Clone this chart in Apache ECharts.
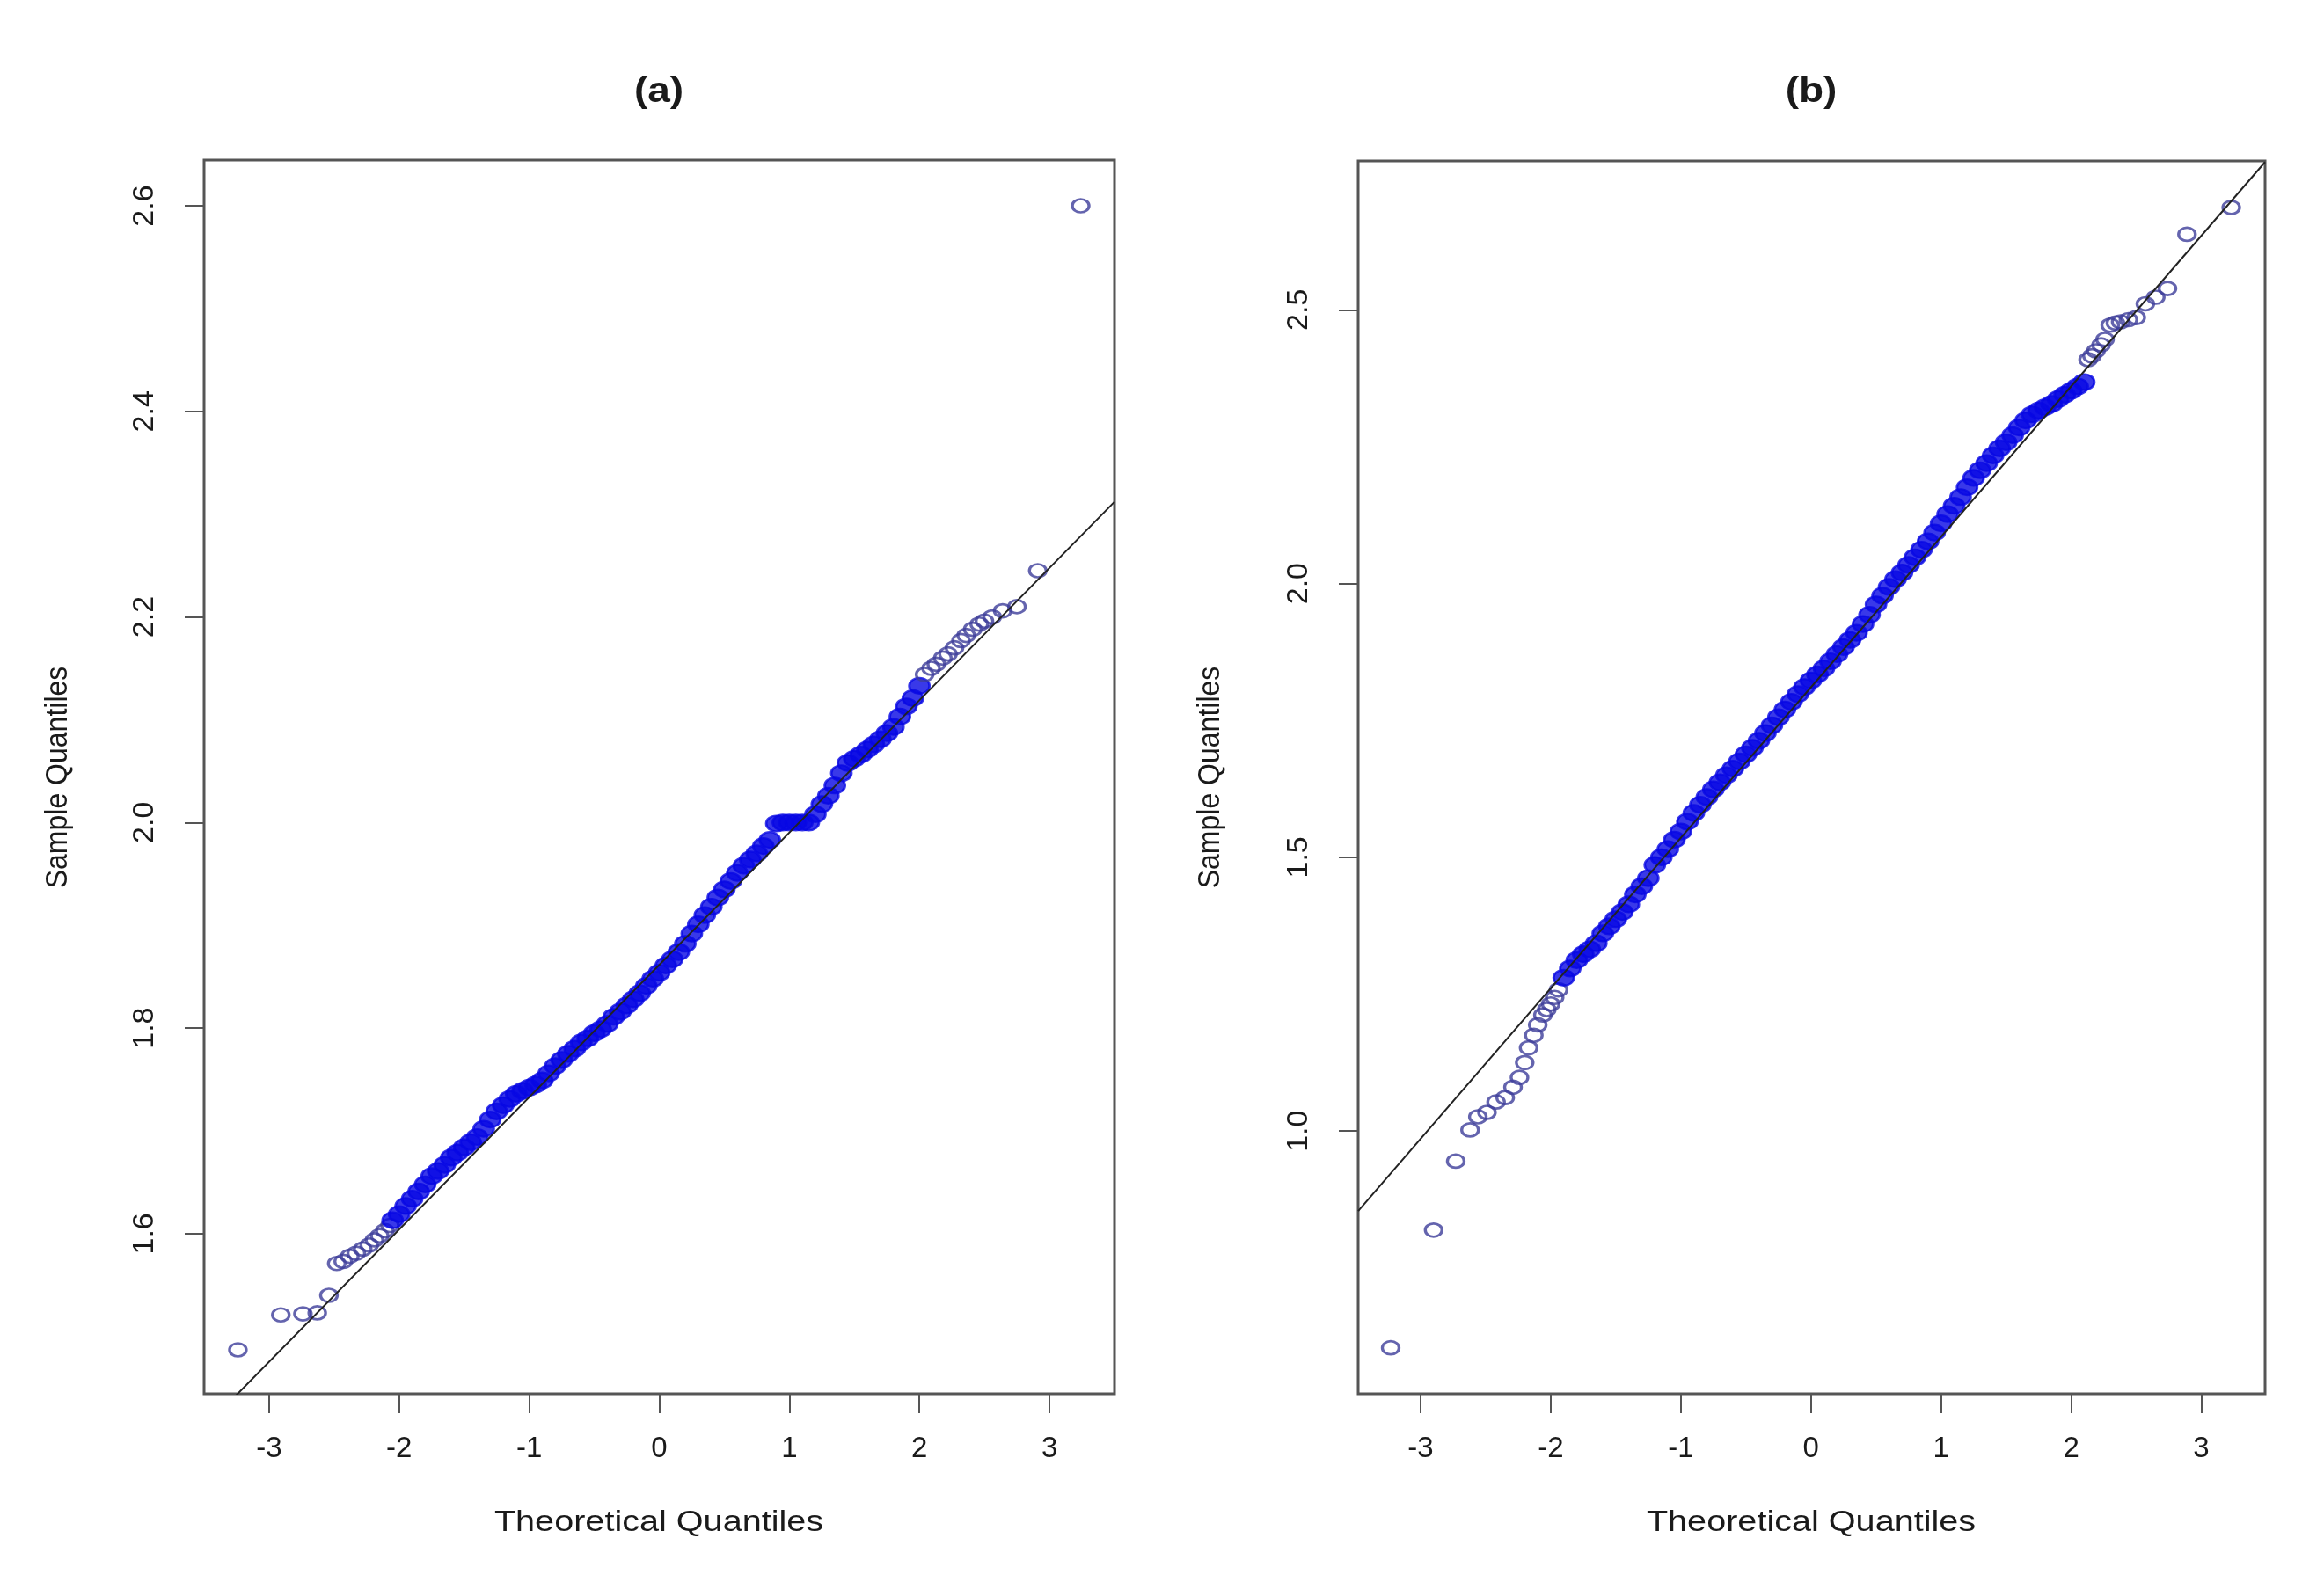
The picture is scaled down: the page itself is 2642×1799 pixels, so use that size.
<!DOCTYPE html>
<html>
<head>
<meta charset="utf-8">
<title>Normal Q-Q plots (a) and (b)</title>
<script src="https://cdn.jsdelivr.net/npm/echarts@6/dist/echarts.min.js"></script>
<style>
  html, body { margin: 0; padding: 0; background: #fff; }
  #chartQQ { width: 2642px; height: 1799px; }
</style>
</head>
<body>
<div id="chartQQ"></div>
<script>
// tick positions
var xTicks = [-3, -2, -1, 0, 1, 2, 3];
var yTicksA = [1.6, 1.8, 2.0, 2.2, 2.4, 2.6];
var yTicksB = [1.0, 1.5, 2.0, 2.5];

// panel (a): [theoretical, sample] for the sparse ends, x/y lists for the dense middle
var aTailLow = [[-3.24, 1.487], [-2.91, 1.521], [-2.74, 1.522], [-2.63, 1.523], [-2.54, 1.540], [-2.48, 1.571],
  [-2.43, 1.573], [-2.38, 1.578], [-2.33, 1.581], [-2.28, 1.585], [-2.23, 1.589], [-2.19, 1.594],
  [-2.15, 1.598], [-2.11, 1.603], [-2.07, 1.608]];
var aCoreX = [-2.05, -2.00, -1.95, -1.90, -1.85, -1.80, -1.75, -1.70, -1.65, -1.60, -1.55, -1.50, -1.45, -1.40,
  -1.35, -1.30, -1.25, -1.20, -1.15, -1.10, -1.05, -1.00, -0.95, -0.90, -0.85, -0.80, -0.75, -0.70, -0.65,
  -0.60, -0.55, -0.50, -0.45, -0.40, -0.35, -0.30, -0.25, -0.20, -0.15, -0.10, -0.05, 0.00, 0.05, 0.10,
  0.15, 0.20, 0.25, 0.30, 0.35, 0.40, 0.45, 0.50, 0.55, 0.60, 0.65, 0.70, 0.75, 0.80, 0.85, 0.90, 0.95,
  1.00, 1.05, 1.10, 1.15, 1.20, 1.25, 1.30, 1.35, 1.40, 1.45, 1.50, 1.55, 1.60, 1.65, 1.70, 1.75, 1.80,
  1.85, 1.90, 1.95, 2.00];
var aCoreY = [1.613, 1.619, 1.627, 1.634, 1.641, 1.648, 1.656, 1.661, 1.667, 1.674,
  1.679, 1.684, 1.689, 1.694, 1.702, 1.711, 1.719, 1.725, 1.731, 1.736,
  1.739, 1.742, 1.745, 1.749, 1.756, 1.763, 1.769, 1.775, 1.780, 1.786,
  1.790, 1.795, 1.799, 1.804, 1.811, 1.816, 1.822, 1.828, 1.834, 1.841,
  1.848, 1.854, 1.861, 1.867, 1.874, 1.882, 1.892, 1.901, 1.910, 1.918,
  1.927, 1.935, 1.943, 1.951, 1.958, 1.964, 1.970, 1.977, 1.983, 1.999,
  2.000, 2.000, 2.000, 2.000, 2.000, 2.008, 2.018, 2.026, 2.036, 2.048,
  2.058, 2.062, 2.066, 2.071, 2.076, 2.081, 2.087, 2.093, 2.103, 2.113,
  2.121, 2.133];
var aTailHigh = [[2.04, 2.144], [2.09, 2.150], [2.13, 2.154], [2.18, 2.160], [2.22, 2.164], [2.27, 2.170],
  [2.32, 2.177], [2.36, 2.182], [2.41, 2.188], [2.46, 2.193], [2.50, 2.196], [2.56, 2.200],
  [2.64, 2.206], [2.75, 2.210], [2.91, 2.245], [3.24, 2.600]];
var aLine = [[-3.5, 1.411], [3.5, 2.312]];

// panel (b)
var bTailLow = [[-3.23, 0.604], [-2.90, 0.819], [-2.73, 0.945], [-2.62, 1.002], [-2.56, 1.026], [-2.49, 1.034],
  [-2.42, 1.053], [-2.35, 1.061], [-2.29, 1.080], [-2.24, 1.098], [-2.20, 1.125], [-2.17, 1.152],
  [-2.13, 1.175], [-2.10, 1.194], [-2.06, 1.212], [-2.03, 1.222], [-2.00, 1.232], [-1.97, 1.244],
  [-1.94, 1.258]];
var bCoreX = [-1.90, -1.85, -1.80, -1.75, -1.70, -1.65, -1.60, -1.55, -1.50, -1.45, -1.40, -1.35, -1.30,
  -1.25, -1.20, -1.15, -1.10, -1.05, -1.00, -0.95, -0.90, -0.85, -0.80, -0.75, -0.70, -0.65, -0.60, -0.55,
  -0.50, -0.45, -0.40, -0.35, -0.30, -0.25, -0.20, -0.15, -0.10, -0.05, 0.00, 0.05, 0.10, 0.15, 0.20,
  0.25, 0.30, 0.35, 0.40, 0.45, 0.50, 0.55, 0.60, 0.65, 0.70, 0.75, 0.80, 0.85, 0.90, 0.95, 1.00, 1.05,
  1.10, 1.15, 1.20, 1.25, 1.30, 1.35, 1.40, 1.45, 1.50, 1.55, 1.60, 1.65, 1.70, 1.75, 1.80, 1.85, 1.90,
  1.95, 2.00, 2.05, 2.10];
var bCoreY = [1.280, 1.297, 1.312, 1.323, 1.332, 1.343, 1.361, 1.374, 1.387, 1.400,
  1.414, 1.432, 1.447, 1.462, 1.486, 1.500, 1.515, 1.532, 1.547, 1.565,
  1.581, 1.596, 1.610, 1.624, 1.637, 1.650, 1.662, 1.675, 1.688, 1.700,
  1.713, 1.727, 1.741, 1.756, 1.770, 1.784, 1.798, 1.811, 1.823, 1.834,
  1.845, 1.858, 1.871, 1.884, 1.897, 1.910, 1.926, 1.943, 1.962, 1.978,
  1.994, 2.008, 2.020, 2.034, 2.048, 2.062, 2.077, 2.093, 2.110, 2.127,
  2.142, 2.158, 2.176, 2.193, 2.207, 2.220, 2.234, 2.247, 2.258, 2.271,
  2.285, 2.298, 2.309, 2.316, 2.322, 2.328, 2.337, 2.345, 2.352, 2.360,
  2.368];
var bTailHigh = [[2.13, 2.409], [2.16, 2.416], [2.19, 2.425], [2.23, 2.436], [2.26, 2.446], [2.30, 2.472],
  [2.34, 2.476], [2.38, 2.478], [2.44, 2.482], [2.50, 2.486], [2.57, 2.511], [2.65, 2.523],
  [2.74, 2.539], [2.89, 2.638], [3.23, 2.687]];
var bLine = [[-3.48, 0.854], [3.49, 2.770]];

function zip(xs, ys) {
  var out = [];
  for (var i = 0; i < xs.length; i++) out.push([xs[i], ys[i]]);
  return out;
}

var frameColor = '#555';
var textColor = '#1a1a1a';
var tailColor = '#3d3d9a';
var coreColor = '#0808e4';

function xAxisFor(grid, min, max) {
  return {
    type: 'value', gridIndex: grid, min: min, max: max,
    axisLine: { show: false, onZero: false },
    splitLine: { show: false },
    axisTick: { show: true, customValues: xTicks, length: 22, lineStyle: { color: frameColor, width: 2 } },
    axisLabel: {
      customValues: xTicks, margin: 46, color: textColor, fontSize: 33,
      fontFamily: '"Liberation Sans", Arial, sans-serif'
    }
  };
}

function yAxisFor(grid, min, max, ticks) {
  return {
    type: 'value', gridIndex: grid, min: min, max: max,
    axisLine: { show: false, onZero: false },
    splitLine: { show: false },
    axisTick: { show: true, customValues: ticks, length: 22, lineStyle: { color: frameColor, width: 2 } },
    axisLabel: {
      customValues: ticks, margin: 50, rotate: 90, color: textColor, fontSize: 34,
      fontFamily: '"Liberation Sans", Arial, sans-serif',
      formatter: function (v) { return v.toFixed(1); }
    }
  };
}

// hollow rings for the sparse ends
function rings(name, idx, data) {
  return {
    name: name, type: 'scatter', xAxisIndex: idx, yAxisIndex: idx,
    data: data, symbol: 'circle', symbolSize: [19, 15],
    itemStyle: { color: 'rgba(0,0,0,0)', borderColor: tailColor, borderWidth: 3 },
    emphasis: { disabled: true }, z: 3
  };
}

// in the dense middle the rings overlap into a solid band
function band(name, idx, data) {
  return {
    name: name, type: 'scatter', xAxisIndex: idx, yAxisIndex: idx,
    data: data, symbol: 'circle', symbolSize: [23, 18],
    itemStyle: { color: coreColor, borderColor: coreColor, borderWidth: 2.5 },
    emphasis: { disabled: true }, z: 3
  };
}

function refLine(idx, data) {
  return {
    type: 'line', xAxisIndex: idx, yAxisIndex: idx, data: data,
    symbol: 'none', clip: true, z: 4,
    lineStyle: { color: '#222', width: 2 }
  };
}

function label(text, x, y, size, opts) {
  opts = opts || {};
  return {
    type: 'text', x: x, y: y, rotation: opts.rotation || 0,
    scaleX: opts.scaleX || 1, scaleY: opts.scaleY || 1,
    style: {
      text: text, fill: textColor, fontSize: size, fontWeight: opts.bold ? 'bold' : 'normal',
      fontFamily: '"Liberation Sans", Arial, sans-serif', align: 'center', verticalAlign: 'middle'
    }
  };
}

var chartQQ = echarts.init(document.getElementById('chartQQ'));
chartQQ.setOption({
  backgroundColor: '#fff',
  animation: false,
  grid: [
    { left: 232, top: 182, width: 1035, height: 1403, show: true, borderColor: frameColor, borderWidth: 3, outerBoundsMode: 'none' },
    { left: 1544, top: 183, width: 1031, height: 1402, show: true, borderColor: frameColor, borderWidth: 3, outerBoundsMode: 'none' }
  ],
  xAxis: [xAxisFor(0, -3.5, 3.5), xAxisFor(1, -3.48, 3.49)],
  yAxis: [yAxisFor(0, 1.4442, 2.6445, yTicksA), yAxisFor(1, 0.520, 2.772, yTicksB)],
  series: [
    rings('a tail low', 0, aTailLow),
    band('a core', 0, zip(aCoreX, aCoreY)),
    rings('a tail high', 0, aTailHigh),
    refLine(0, aLine),
    rings('b tail low', 1, bTailLow),
    band('b core', 1, zip(bCoreX, bCoreY)),
    rings('b tail high', 1, bTailHigh),
    refLine(1, bLine)
  ],
  graphic: [
    label('(a)', 749, 105, 40, { bold: true, scaleX: 1.15 }),
    label('(b)', 2059, 105, 40, { bold: true, scaleX: 1.15 }),
    label('Theoretical Quantiles', 749, 1732, 33, { scaleX: 1.2 }),
    label('Theoretical Quantiles', 2059, 1732, 33, { scaleX: 1.2 }),
    label('Sample Quantiles', 66, 884, 32, { rotation: Math.PI / 2, scaleY: 1.12 }),
    label('Sample Quantiles', 1376, 884, 32, { rotation: Math.PI / 2, scaleY: 1.12 })
  ]
});
</script>
</body>
</html>
